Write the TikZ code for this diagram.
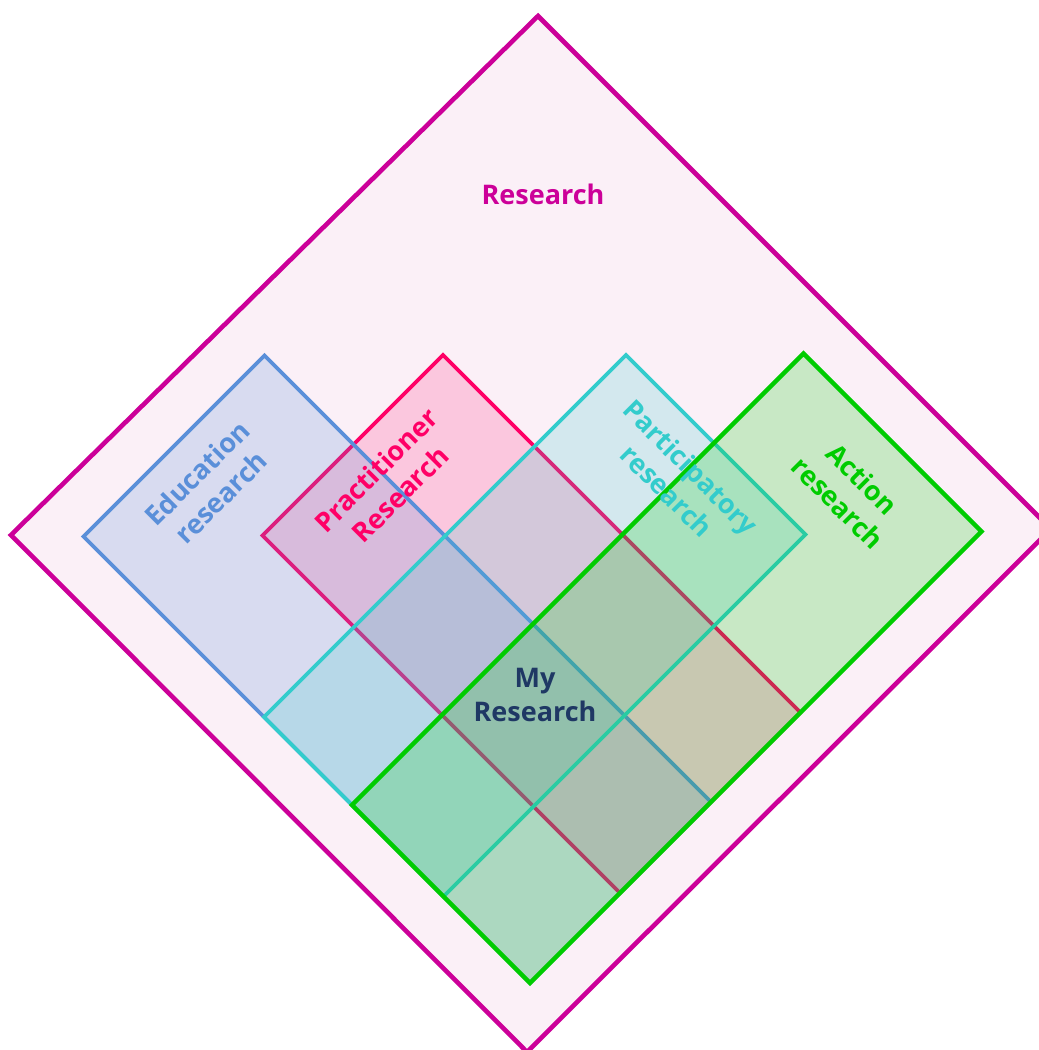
\documentclass[tikz,border=0pt]{standalone}
\usepackage{fontspec}
\setmainfont{Open Sans}
\definecolor{resC}{HTML}{CC0099}
\definecolor{resFill}{HTML}{FBF0F7}
\definecolor{eduC}{RGB}{90,143,217}
\definecolor{pracC}{HTML}{FF0066}
\definecolor{partC}{HTML}{33CCCC}
\definecolor{actC}{HTML}{00CC00}
\definecolor{mineC}{HTML}{1F3864}
\begin{document}
\begin{tikzpicture}[x=1pt,y=-1pt,
  area/.style={line width=3.8pt, line join=miter},
  lbl/.style={font=\fontsize{27}{34}\selectfont\bfseries, align=center, inner sep=0pt},
]
\useasboundingbox (0,0) rectangle (1039,1050);
\fill[white] (0,0) rectangle (1039,1050);
\clip (0,0) rectangle (1039,1050);

% outer field: Research
\draw[line width=4.6pt, draw=resC, fill=resFill, line join=miter]
  (538,16) -- (1051,529) -- (527,1052) -- (11,535) -- cycle;

% Practitioner research
\draw[area, draw=pracC, fill=pracC, fill opacity=0.17]
  (443,355) -- (800.5,712.5) -- (620,893) -- (262.5,535.5) -- cycle;

% Education research
\draw[area, draw=eduC, fill=eduC, fill opacity=0.21]
  (264.5,355.5) -- (711,802) -- (530,983) -- (83.5,536.5) -- cycle;

% Participatory research
\draw[area, draw=partC, fill=partC, fill opacity=0.2]
  (626,355) -- (805.5,534.5) -- (443.5,896.5) -- (264,717) -- cycle;

% Action research
\draw[area, line width=4.3pt, draw=actC, fill=actC, fill opacity=0.2]
  (803.5,353.5) -- (981.5,531.5) -- (530,983) -- (352,805) -- cycle;

% labels
\node[lbl, text=resC, anchor=base] (research) at (543,204) {Research};
\node[lbl, text=eduC, rotate=45] (edu) at (209,485) {Education\\research};
\node[lbl, text=pracC, rotate=45] (prac) at (388,482) {Practitioner\\Research};
\node[lbl, text=partC, rotate=-45] (part) at (679,479) {Participatory\\research};
\node[lbl, text=actC, rotate=-45] (act) at (850,491) {Action\\research};
\node[lbl, text=mineC] (mine) at (535,695) {My\\Research};
\end{tikzpicture}
\end{document}
